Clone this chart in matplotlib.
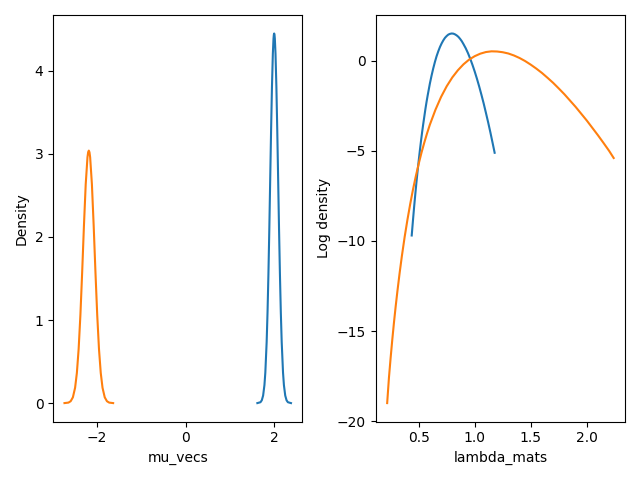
import matplotlib
matplotlib.use("Agg")
import matplotlib.pyplot as plt

# density of mu_vecs, first component (blue)
mu0_x = [1.62, 1.69, 1.72, 1.75, 1.78, 1.80, 1.83, 1.85, 1.87, 1.89, 1.91, 1.93, 1.95, 1.97, 1.985, 1.9925,
         2.00, 2.0075, 2.015, 2.03, 2.05, 2.07, 2.09, 2.11, 2.13, 2.15, 2.17, 2.20, 2.22, 2.25, 2.28, 2.31, 2.38]
mu0_y = [0.0004, 0.011, 0.034, 0.091, 0.218, 0.368, 0.736, 1.097, 1.553, 2.094, 2.688, 3.280, 3.808, 4.207, 4.388, 4.434,
         4.45, 4.434, 4.388, 4.207, 3.808, 3.280, 2.688, 2.094, 1.553, 1.097, 0.736, 0.368, 0.218, 0.091, 0.034, 0.011, 0.0004]

# density of mu_vecs, second component (orange)
mu1_x = [-2.74, -2.65, -2.60, -2.55, -2.50, -2.46, -2.42, -2.38, -2.34, -2.30, -2.26, -2.22, -2.205, -2.19,
         -2.175, -2.16, -2.12, -2.08, -2.04, -2.00, -1.96, -1.92, -1.88, -1.83, -1.78, -1.73, -1.64]
mu1_y = [0.0005, 0.0064, 0.023, 0.070, 0.185, 0.363, 0.651, 1.062, 1.578, 2.137, 2.635, 2.961, 3.020, 3.04,
         3.020, 2.961, 2.635, 2.137, 1.578, 1.062, 0.651, 0.363, 0.185, 0.070, 0.023, 0.0064, 0.0005]

# log density of lambda_mats, first component (blue)
lam0_x = [0.438, 0.45, 0.46, 0.47, 0.48, 0.49, 0.50, 0.51, 0.52, 0.53, 0.54, 0.56, 0.57, 0.58, 0.60, 0.615,
          0.63, 0.645, 0.66, 0.675, 0.69, 0.705, 0.72, 0.735, 0.75, 0.765, 0.78, 0.795, 0.81, 0.825, 0.84,
          0.855, 0.87, 0.885, 0.90, 0.92, 0.94, 0.96, 0.98, 1.00, 1.02, 1.04, 1.06, 1.08, 1.10, 1.12, 1.14,
          1.16, 1.178]
lam0_y = [-9.70, -8.80, -8.08, -7.41, -6.76, -6.15, -5.57, -5.02, -4.50, -4.01, -3.55, -2.69, -2.30, -1.94, -1.27, -0.83,
          -0.43, -0.07, 0.25, 0.52, 0.76, 0.96, 1.13, 1.27, 1.37, 1.45, 1.49, 1.51, 1.50, 1.46, 1.40,
          1.32, 1.21, 1.08, 0.92, 0.69, 0.42, 0.11, -0.23, -0.60, -1.00, -1.43, -1.89, -2.37, -2.89, -3.42, -3.98,
          -4.57, -5.11]

# log density of lambda_mats, second component (orange)
lam1_x = [0.219, 0.235, 0.25, 0.265, 0.28, 0.295, 0.31, 0.33, 0.35, 0.375, 0.40, 0.425, 0.45, 0.475, 0.50,
          0.525, 0.55, 0.575, 0.60, 0.65, 0.70, 0.75, 0.80, 0.85, 0.90, 0.95, 1.00, 1.05, 1.10, 1.15,
          1.20, 1.25, 1.30, 1.35, 1.40, 1.45, 1.50, 1.55, 1.60, 1.65, 1.70, 1.75, 1.80, 1.85, 1.90, 1.95,
          2.00, 2.05, 2.10, 2.15, 2.20, 2.24]
lam1_y = [-19.0, -17.58, -16.48, -15.46, -14.51, -13.63, -12.81, -11.79, -10.85, -9.78, -8.82, -7.94, -7.13, -6.40, -5.73,
          -5.11, -4.55, -4.03, -3.55, -2.72, -2.01, -1.42, -0.93, -0.53, -0.20, 0.06, 0.25, 0.39, 0.48, 0.52,
          0.51, 0.47, 0.40, 0.29, 0.15, -0.02, -0.22, -0.44, -0.68, -0.95, -1.23, -1.54, -1.86, -2.21, -2.56, -2.94,
          -3.32, -3.73, -4.14, -4.57, -5.01, -5.40]

fig, (ax1, ax2) = plt.subplots(1, 2, figsize=(6.4, 4.8), dpi=100)

ax1.plot(mu0_x, mu0_y)
ax1.plot(mu1_x, mu1_y)
ax1.set_xlabel("mu_vecs")
ax1.set_ylabel("Density")

ax2.plot(lam0_x, lam0_y)
ax2.plot(lam1_x, lam1_y)
ax2.set_xlabel("lambda_mats")
ax2.set_ylabel("Log density")

fig.tight_layout()
fig.savefig("out.png")
